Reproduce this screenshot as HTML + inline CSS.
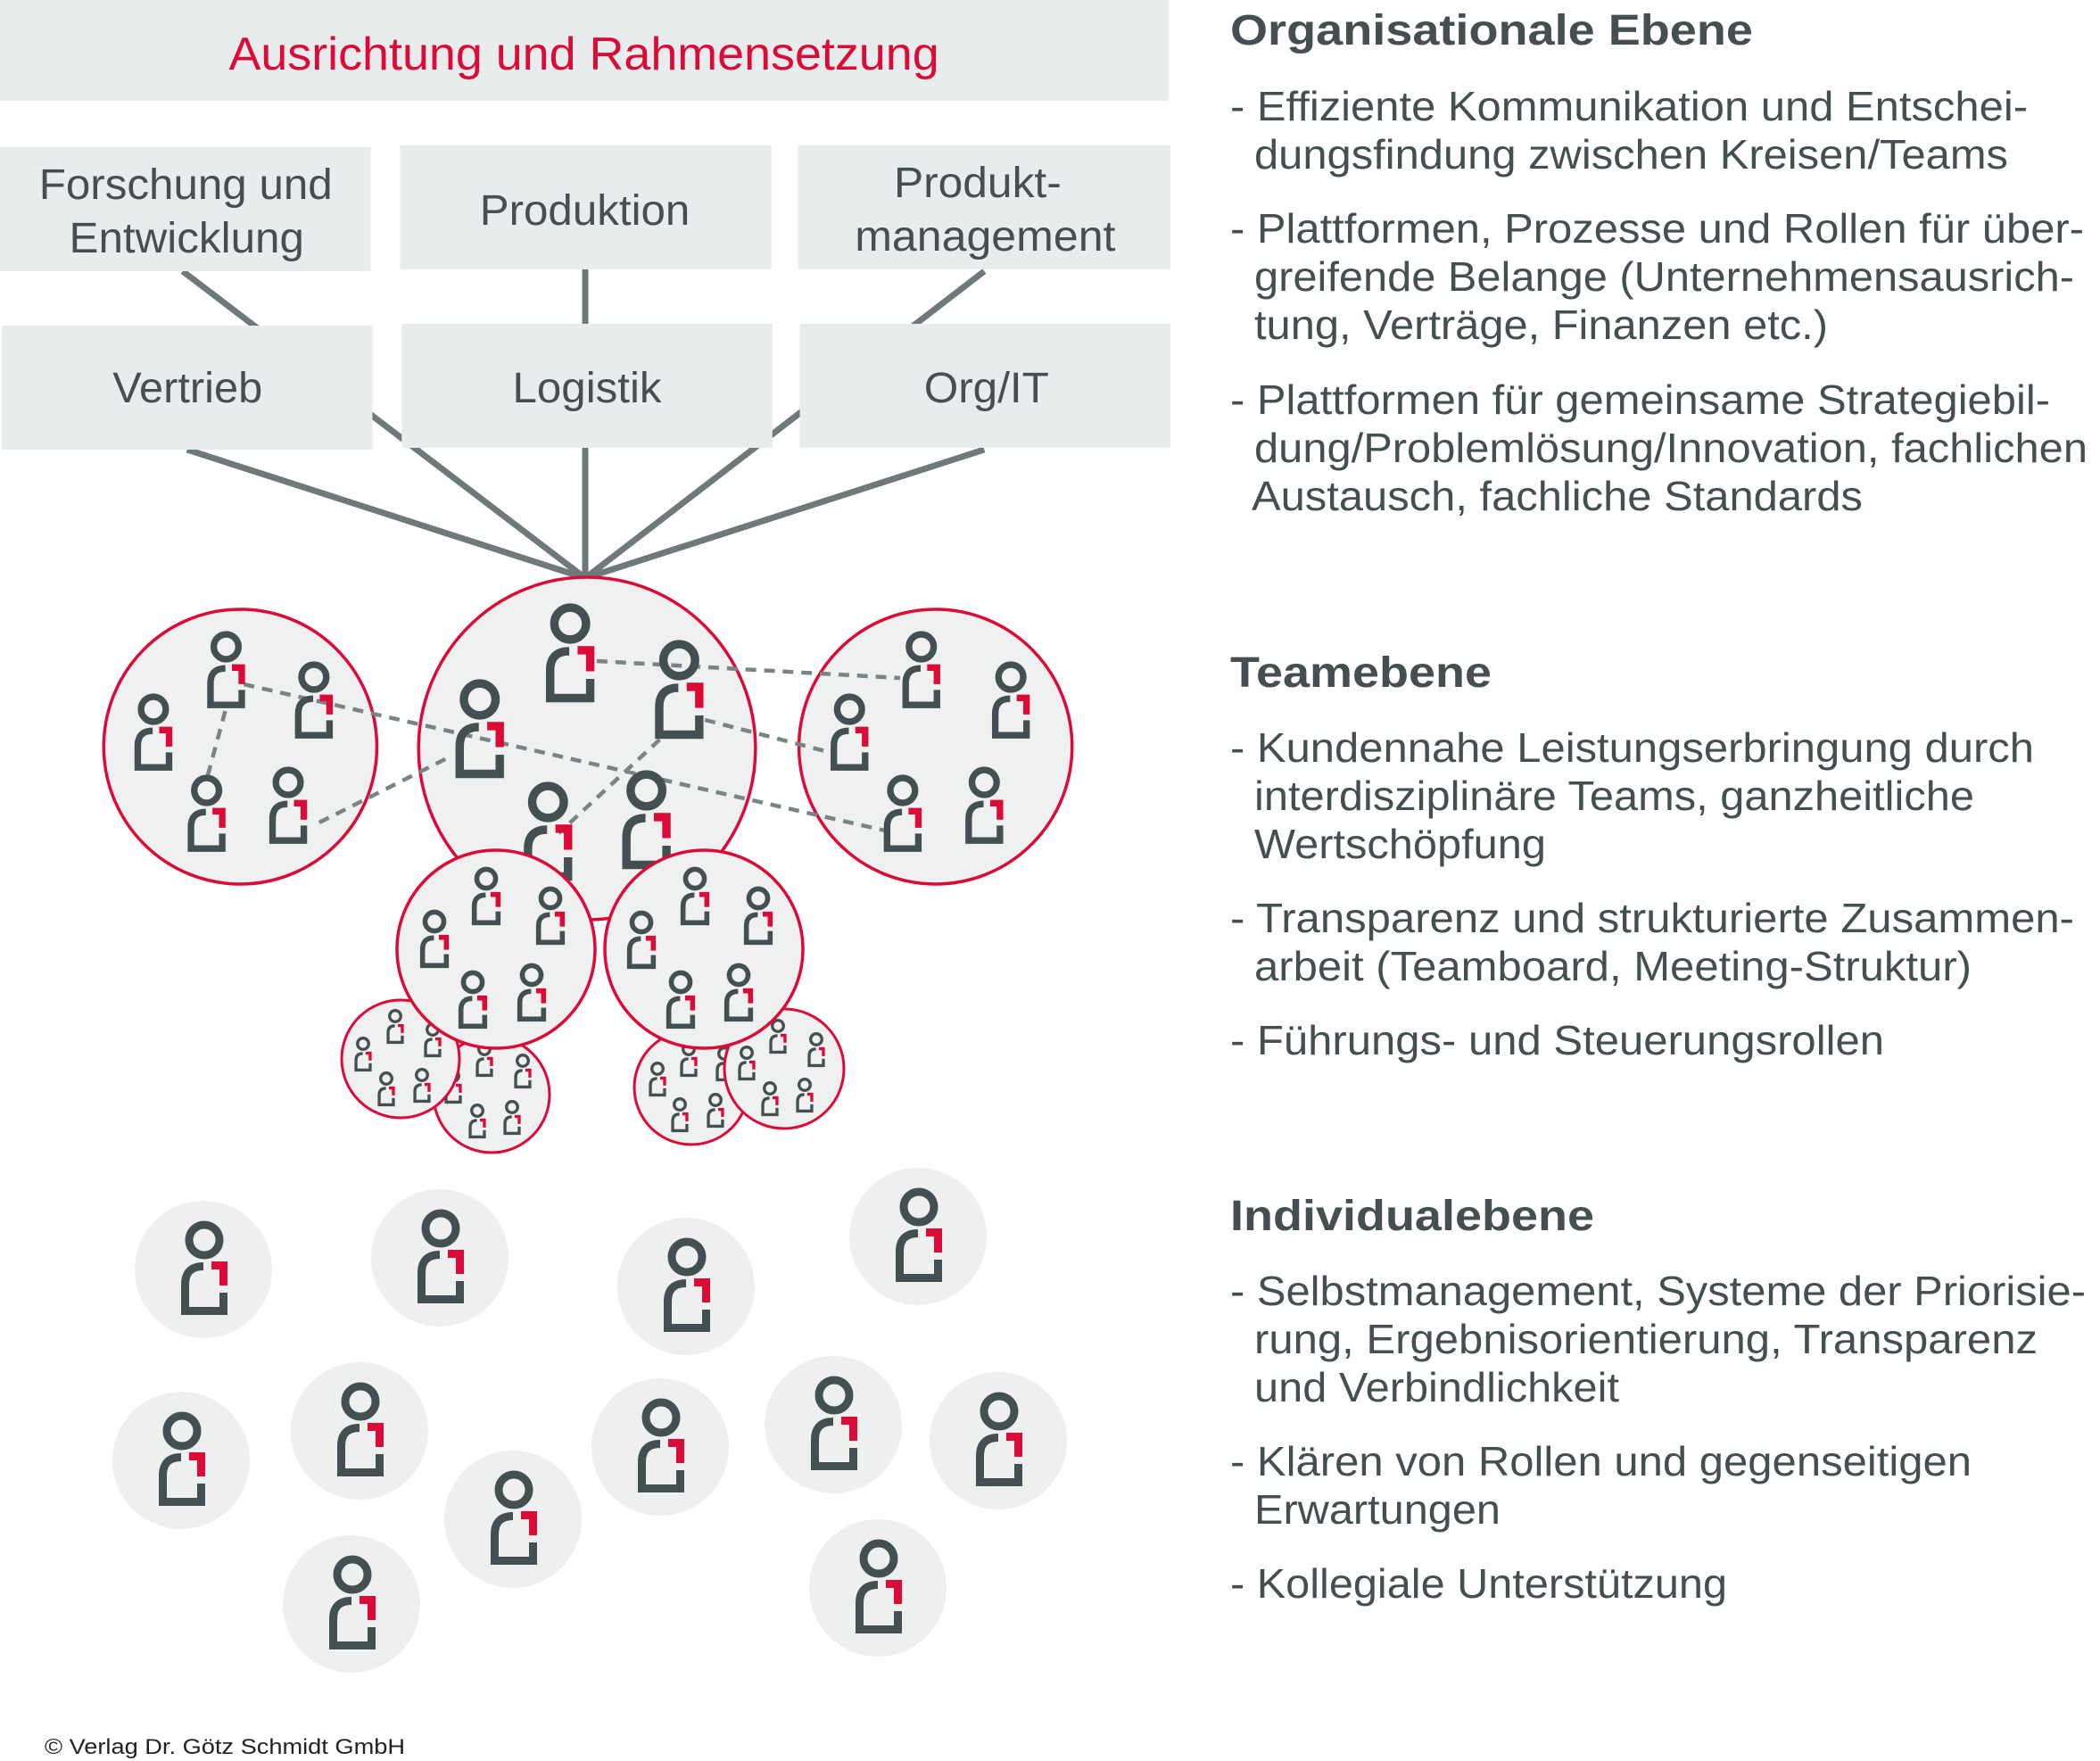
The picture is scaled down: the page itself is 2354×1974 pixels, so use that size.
<!DOCTYPE html>
<html><head><meta charset="utf-8"><style>
html,body{margin:0;padding:0;background:#fff;}
svg{display:block;}
text{font-family:"Liberation Sans",Arial,sans-serif;fill:#454f51;}
</style></head><body>
<svg width="2354" height="1974" viewBox="0 0 2354 1974" xmlns="http://www.w3.org/2000/svg">
<defs>
<g id="p">
<circle cx="0" cy="0" r="17" fill="none" stroke="#434f51" stroke-width="9"/>
<path d="M -1 29.5 Q -21.5 29.5 -21.5 50 L -21.5 79.5 L 21.5 79.5 L 21.5 59" fill="none" stroke="#434f51" stroke-width="9"/>
<path d="M 8 24 H 26 V 51 H 17 V 33 H 8 Z" fill="#dc0a36"/>
</g>
</defs>

<g transform="scale(0.994,1)">
<!-- top banner -->
<rect x="0" y="0" width="1318" height="113" fill="#e9ecec"/>
<text x="258" y="78" font-size="52" style="fill:#dc0a36" textLength="801" lengthAdjust="spacingAndGlyphs">Ausrichtung und Rahmensetzung</text>

<!-- connectors -->
<g stroke="#6f797a" stroke-width="7" stroke-linecap="butt">
<line x1="206" y1="304" x2="660" y2="648"/>
<line x1="660" y1="302" x2="660" y2="648"/>
<line x1="1110" y1="304" x2="660" y2="648"/>
<line x1="211" y1="504" x2="660" y2="648"/>
<line x1="1110" y1="504" x2="660" y2="648"/>
<line x1="660" y1="504" x2="660" y2="648"/>
</g>

<!-- boxes -->
<g fill="#e9ecec">
<rect x="0" y="165" width="418" height="139"/>
<rect x="451" y="163" width="419" height="139"/>
<rect x="900" y="163" width="420" height="139"/>
<rect x="2" y="365" width="418" height="139"/>
<rect x="453" y="363" width="418" height="139"/>
<rect x="902" y="363" width="418" height="139"/>
</g>
<g font-size="48">
<text x="44" y="223" textLength="331" lengthAdjust="spacingAndGlyphs">Forschung und</text>
<text x="78" y="283" textLength="265" lengthAdjust="spacingAndGlyphs">Entwicklung</text>
<text x="541" y="252" textLength="237" lengthAdjust="spacingAndGlyphs">Produktion</text>
<text x="1008" y="221" textLength="189" lengthAdjust="spacingAndGlyphs">Produkt-</text>
<text x="964" y="281" textLength="294" lengthAdjust="spacingAndGlyphs">management</text>
<text x="127" y="451" textLength="169" lengthAdjust="spacingAndGlyphs">Vertrieb</text>
<text x="578" y="451" textLength="168" lengthAdjust="spacingAndGlyphs">Logistik</text>
<text x="1042" y="451" textLength="141" lengthAdjust="spacingAndGlyphs">Org/IT</text>
</g>

<!-- big team circles -->
<g fill="#eff0f0" stroke="#dc0a36" stroke-width="3.5">
<circle cx="271" cy="837" r="154"/>
<ellipse cx="662" cy="839" rx="190" ry="192"/>
<circle cx="1055" cy="837" r="154"/>
</g>

<!-- dashed connections -->
<g stroke="#7a8385" stroke-width="4.5" stroke-dasharray="12 9" fill="none">
<line x1="673" y1="741" x2="1015" y2="760"/>
<line x1="275" y1="767" x2="998" y2="931"/>
<line x1="254" y1="797" x2="233" y2="874"/>
<line x1="360" y1="922" x2="508" y2="848"/>
<line x1="795" y1="807" x2="931" y2="842"/>
<line x1="744" y1="829" x2="630" y2="934"/>
</g>

<!-- icons in big circles -->
<use href="#p" transform="translate(255,725) scale(0.82)"/>
<use href="#p" transform="translate(354,759) scale(0.82)"/>
<use href="#p" transform="translate(173,795) scale(0.82)"/>
<use href="#p" transform="translate(233,886) scale(0.82)"/>
<use href="#p" transform="translate(325,877) scale(0.82)"/>

<use href="#p" transform="translate(643,699) scale(1.05)"/>
<use href="#p" transform="translate(766,740) scale(1.05)"/>
<use href="#p" transform="translate(541,784) scale(1.05)"/>
<use href="#p" transform="translate(618,899) scale(1.05)"/>
<use href="#p" transform="translate(729,886) scale(1.05)"/>

<use href="#p" transform="translate(1039,725) scale(0.82)"/>
<use href="#p" transform="translate(1140,759) scale(0.82)"/>
<use href="#p" transform="translate(958,795) scale(0.82)"/>
<use href="#p" transform="translate(1018,886) scale(0.82)"/>
<use href="#p" transform="translate(1110,877) scale(0.82)"/>
</g>

<!-- small circles B, A -->
<circle cx="551" cy="1227" r="65" fill="#eff0f0" stroke="#dc0a36" stroke-width="3"/>
<use href="#p" transform="translate(543,1176) scale(0.37)"/>
<use href="#p" transform="translate(586,1189) scale(0.37)"/>
<use href="#p" transform="translate(508,1206) scale(0.37)"/>
<use href="#p" transform="translate(535,1245) scale(0.37)"/>
<use href="#p" transform="translate(574,1241) scale(0.37)"/>
<circle cx="449" cy="1187" r="66" fill="#eff0f0" stroke="#dc0a36" stroke-width="3"/>
<use href="#p" transform="translate(443,1139) scale(0.37)"/>
<use href="#p" transform="translate(407,1170) scale(0.37)"/>
<use href="#p" transform="translate(485,1154) scale(0.37)"/>
<use href="#p" transform="translate(433,1209) scale(0.37)"/>
<use href="#p" transform="translate(473,1205) scale(0.37)"/>

<!-- small circles C, D -->
<circle cx="775" cy="1219" r="64" fill="#eff0f0" stroke="#dc0a36" stroke-width="3"/>
<use href="#p" transform="translate(737,1198) scale(0.37)"/>
<use href="#p" transform="translate(772,1176) scale(0.37)"/>
<use href="#p" transform="translate(812,1181) scale(0.37)"/>
<use href="#p" transform="translate(762,1238) scale(0.37)"/>
<use href="#p" transform="translate(802,1233) scale(0.37)"/>
<circle cx="879" cy="1198" r="67" fill="#eff0f0" stroke="#dc0a36" stroke-width="3"/>
<use href="#p" transform="translate(872,1150) scale(0.37)"/>
<use href="#p" transform="translate(915,1165) scale(0.37)"/>
<use href="#p" transform="translate(837,1180) scale(0.37)"/>
<use href="#p" transform="translate(863,1220) scale(0.37)"/>
<use href="#p" transform="translate(902,1216) scale(0.37)"/>

<!-- mid circles -->
<circle cx="556" cy="1064" r="111" fill="#eff0f0" stroke="#dc0a36" stroke-width="3.5"/>
<use href="#p" transform="translate(545,985) scale(0.62)"/>
<use href="#p" transform="translate(617,1007) scale(0.62)"/>
<use href="#p" transform="translate(487,1033) scale(0.62)"/>
<use href="#p" transform="translate(530,1101) scale(0.62)"/>
<use href="#p" transform="translate(596,1093) scale(0.62)"/>
<circle cx="789" cy="1064" r="111" fill="#eff0f0" stroke="#dc0a36" stroke-width="3.5"/>
<use href="#p" transform="translate(779,985) scale(0.62)"/>
<use href="#p" transform="translate(850,1007) scale(0.62)"/>
<use href="#p" transform="translate(719,1034) scale(0.62)"/>
<use href="#p" transform="translate(763,1101) scale(0.62)"/>
<use href="#p" transform="translate(828,1093) scale(0.62)"/>

<!-- individuals -->
<g fill="#eeefef">
<circle cx="228" cy="1423" r="77"/>
<circle cx="493" cy="1410" r="77"/>
<circle cx="769" cy="1442" r="77"/>
<circle cx="1029" cy="1386" r="77"/>
<circle cx="203" cy="1637" r="77"/>
<circle cx="403" cy="1604" r="77"/>
<circle cx="575" cy="1703" r="77"/>
<circle cx="394" cy="1798" r="77"/>
<circle cx="740" cy="1622" r="77"/>
<circle cx="934" cy="1597" r="77"/>
<circle cx="1119" cy="1615" r="77"/>
<circle cx="984" cy="1780" r="77"/>
</g>
<use href="#p" transform="translate(229,1390)"/>
<use href="#p" transform="translate(494,1377)"/>
<use href="#p" transform="translate(770,1409)"/>
<use href="#p" transform="translate(1030,1353)"/>
<use href="#p" transform="translate(204,1604)"/>
<use href="#p" transform="translate(404,1571)"/>
<use href="#p" transform="translate(576,1670)"/>
<use href="#p" transform="translate(395,1765)"/>
<use href="#p" transform="translate(741,1589)"/>
<use href="#p" transform="translate(935,1564)"/>
<use href="#p" transform="translate(1120,1582)"/>
<use href="#p" transform="translate(985,1747)"/>

<!-- right text -->
<g font-size="46">
<text x="1379" y="50" font-weight="bold" font-size="48" textLength="586" lengthAdjust="spacingAndGlyphs">Organisationale Ebene</text>
<text x="1379" y="135" textLength="894" lengthAdjust="spacingAndGlyphs">- Effiziente Kommunikation und Entschei-</text>
<text x="1406" y="189" textLength="845" lengthAdjust="spacingAndGlyphs">dungsfindung zwischen Kreisen/Teams</text>
<text x="1379" y="272" textLength="957" lengthAdjust="spacingAndGlyphs">- Plattformen, Prozesse und Rollen für über-</text>
<text x="1406" y="326" textLength="919" lengthAdjust="spacingAndGlyphs">greifende Belange (Unternehmensausrich-</text>
<text x="1406" y="380" textLength="643" lengthAdjust="spacingAndGlyphs">tung, Verträge, Finanzen etc.)</text>
<text x="1379" y="464" textLength="919" lengthAdjust="spacingAndGlyphs">- Plattformen für gemeinsame Strategiebil-</text>
<text x="1406" y="518" textLength="934" lengthAdjust="spacingAndGlyphs">dung/Problemlösung/Innovation, fachlichen</text>
<text x="1403" y="572" textLength="685" lengthAdjust="spacingAndGlyphs">Austausch, fachliche Standards</text>

<text x="1379" y="770" font-weight="bold" font-size="48" textLength="293" lengthAdjust="spacingAndGlyphs">Teamebene</text>
<text x="1379" y="854" textLength="901" lengthAdjust="spacingAndGlyphs">- Kundennahe Leistungserbringung durch</text>
<text x="1406" y="908" textLength="807" lengthAdjust="spacingAndGlyphs">interdisziplinäre Teams, ganzheitliche</text>
<text x="1406" y="962" textLength="327" lengthAdjust="spacingAndGlyphs">Wertschöpfung</text>
<text x="1379" y="1045" textLength="946" lengthAdjust="spacingAndGlyphs">- Transparenz und strukturierte Zusammen-</text>
<text x="1406" y="1099" textLength="804" lengthAdjust="spacingAndGlyphs">arbeit (Teamboard, Meeting-Struktur)</text>
<text x="1379" y="1182" textLength="733" lengthAdjust="spacingAndGlyphs">- Führungs- und Steuerungsrollen</text>

<text x="1379" y="1379" font-weight="bold" font-size="48" textLength="408" lengthAdjust="spacingAndGlyphs">Individualebene</text>
<text x="1379" y="1463" textLength="959" lengthAdjust="spacingAndGlyphs">- Selbstmanagement, Systeme der Priorisie-</text>
<text x="1406" y="1517" textLength="878" lengthAdjust="spacingAndGlyphs">rung, Ergebnisorientierung, Transparenz</text>
<text x="1406" y="1571" textLength="409" lengthAdjust="spacingAndGlyphs">und Verbindlichkeit</text>
<text x="1379" y="1654" textLength="831" lengthAdjust="spacingAndGlyphs">- Klären von Rollen und gegenseitigen</text>
<text x="1406" y="1708" textLength="276" lengthAdjust="spacingAndGlyphs">Erwartungen</text>
<text x="1379" y="1791" textLength="557" lengthAdjust="spacingAndGlyphs">- Kollegiale Unterstützung</text>
</g>

<text x="50" y="1966" font-size="24" style="fill:#222" textLength="404" lengthAdjust="spacingAndGlyphs">© Verlag Dr. Götz Schmidt GmbH</text>
</svg>
</body></html>
